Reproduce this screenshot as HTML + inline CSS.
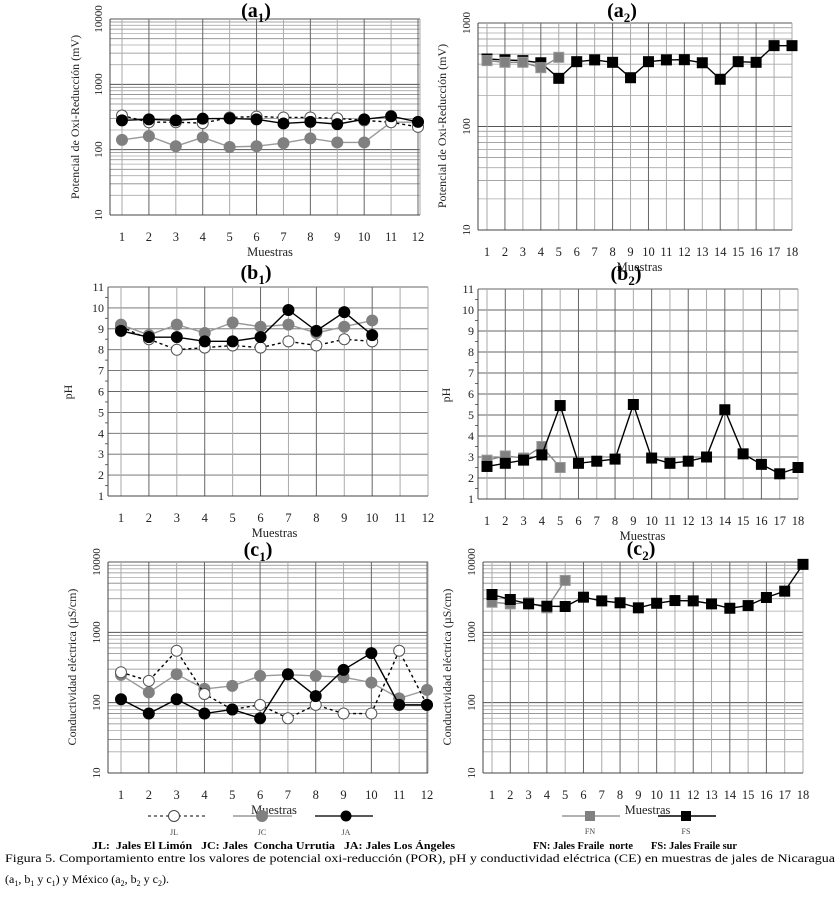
<!DOCTYPE html>
<html><head><meta charset="utf-8"><style>
html,body{margin:0;padding:0;background:#fff}
svg{display:block;font-family:"Liberation Serif",serif}
text{white-space:pre}
</style></head><body>
<svg id="fig" width="839" height="899" viewBox="0 0 839 899" xmlns="http://www.w3.org/2000/svg" xml:space="preserve">
<g id="layer"></g>
<g>
<line x1="148" y1="816" x2="205" y2="816" stroke="#000" stroke-dasharray="3,3"/>
<circle cx="174" cy="816" r="5.5" fill="#fff" stroke="#444"/>
<line x1="233" y1="816" x2="292" y2="816" stroke="#999" stroke-width="1.5"/>
<circle cx="262" cy="816" r="5.5" fill="#808080" stroke="#808080"/>
<line x1="315" y1="816" x2="373" y2="816" stroke="#222" stroke-width="1.5"/>
<circle cx="346" cy="816" r="5.5" fill="#000"/>
<text x="174" y="835" font-size="8" text-anchor="middle" fill="#444">JL</text>
<text x="262" y="835" font-size="8" text-anchor="middle" fill="#444">JC</text>
<text x="346" y="835" font-size="8" text-anchor="middle" fill="#444">JA</text>
<text x="92" y="849" font-size="11" font-weight="bold" textLength="363" lengthAdjust="spacingAndGlyphs">JL:  Jales El Limón   JC: Jales  Concha Urrutia   JA: Jales Los Ángeles</text>
</g>
<g>
<line x1="562" y1="816" x2="620" y2="816" stroke="#999" stroke-width="1.5"/>
<rect x="585" y="811" width="10" height="10" fill="#808080"/>
<line x1="658" y1="816" x2="716" y2="816" stroke="#000" stroke-width="1.5"/>
<rect x="681" y="811" width="10" height="10" fill="#000"/>
<text x="590" y="834" font-size="8" text-anchor="middle" fill="#444">FN</text>
<text x="686" y="834" font-size="8" text-anchor="middle" fill="#444">FS</text>
<text x="533" y="849" font-size="11" font-weight="bold" textLength="100" lengthAdjust="spacingAndGlyphs">FN: Jales Fraile  norte</text>
<text x="651" y="849" font-size="11" font-weight="bold" textLength="86" lengthAdjust="spacingAndGlyphs">FS: Jales Fraile sur</text>
</g>
<text x="5" y="862" font-size="12" textLength="830" lengthAdjust="spacingAndGlyphs">Figura 5. Comportamiento entre los valores de potencial oxi-reducción (POR), pH y conductividad eléctrica (CE) en muestras de jales de Nicaragua</text>
<text x="5" y="883" font-size="12">(a<tspan font-size="8" dy="3">1</tspan><tspan dy="-3">, b</tspan><tspan font-size="8" dy="3">1</tspan><tspan dy="-3"> y c</tspan><tspan font-size="8" dy="3">1</tspan><tspan dy="-3">) y México (a</tspan><tspan font-size="8" dy="3">2</tspan><tspan dy="-3">, b</tspan><tspan font-size="8" dy="3">2</tspan><tspan dy="-3"> y c</tspan><tspan font-size="8" dy="3">2</tspan><tspan dy="-3">).</tspan></text>
</svg>
<script>
// ---- data ----
const cats12 = [1,2,3,4,5,6,7,8,9,10,11,12];
const cats18 = [1,2,3,4,5,6,7,8,9,10,11,12,13,14,15,16,17,18];
const a1JL = [333,263,263,255,311,321,311,311,301,281,263,223];
const a1JC = [141,161,113,154,110,113,126,149,129,129,263,263];
const a1JA = [281,291,281,298,301,291,252,266,246,291,325,266];
const a2FN = [433,417,417,370,466];
const a2FS = [449,440,433,413,292,423,440,417,296,423,440,442,413,286,423,417,604,604];
const b1JL = [9.1,8.5,8.0,8.1,8.2,8.1,8.4,8.2,8.5,8.4];
const b1JC = [9.2,8.7,9.2,8.8,9.3,9.1,9.2,8.8,9.1,9.4];
const b1JA = [8.9,8.6,8.6,8.4,8.4,8.6,9.9,8.9,9.8,8.7];
const b2FN = [2.85,3.05,2.95,3.5,2.5];
const b2FS = [2.55,2.7,2.85,3.1,5.45,2.7,2.8,2.9,5.5,2.95,2.7,2.8,3.0,5.25,3.15,2.65,2.2,2.5];
const c1JL = [271,204,547,133,80,93,60,93,70,70,547,93];
const c1JC = [248,140,254,157,173,240,250,240,230,193,115,152];
const c1JA = [112,70,112,70,80,60,254,124,293,507,93,93];
const c2FN = [2680,2540,2630,2230,5470];
const c2FS = [3450,2930,2540,2350,2330,3160,2800,2630,2230,2590,2830,2800,2540,2200,2400,3130,3850,9260];
const logTicks4 = ["10","100","1000","10000"];
const logTicks3 = ["10","100","1000"];
const phTicks = ["1","2","3","4","5","6","7","8","9","10","11"];

const NS="http://www.w3.org/2000/svg";
const root=document.getElementById('layer');
function mk(tag,attrs,parent){const e=document.createElementNS(NS,tag);for(const k in attrs)e.setAttribute(k,attrs[k]);(parent||root).appendChild(e);return e;}

function panel(o){
  const g=mk('g',{});
  
  
  const n=o.cats.length;
  const step=(o.xN-o.x1)/(n-1);
  const xs=i=>o.x1+i*step;
  let ys;
  if(o.log){
    const d=(o.bottom-o.top)/o.decades;
    ys=v=>o.bottom-(Math.log10(v)-1)*d;
    for(let k=0;k<o.decades;k++){
      for(let m=1;m<=9;m++){
        const v=Math.pow(10,k+1)*m;
        const y=ys(v);
        mk('line',{x1:o.left,x2:o.right,y1:y,y2:y,stroke:m==1?'#555':(m%2?'#888':'#aaa'),'stroke-width':m==1?1:0.8},g);
      }
    }
    mk('line',{x1:o.left,x2:o.right,y1:o.top,y2:o.top,stroke:'#555'},g);
    o.ticks.forEach((t,k)=>{
      const y=ys(Math.pow(10,k+1));
      const tx=mk('text',{x:o.left-8,y:y,'font-size':11,'text-anchor':'middle',transform:`rotate(-90 ${o.left-8} ${y})`,fill:'#222'},g);
      tx.textContent=t;
      
      
    });
  } else {
    const u=(o.bottom-o.top)/10;
    ys=v=>o.bottom-(v-1)*u;
    for(let v=1;v<=11;v++){
      const y=ys(v);
      mk('line',{x1:o.left,x2:o.right,y1:y,y2:y,stroke:'#666','stroke-width':0.9},g);
      if(v<11) mk('line',{x1:o.left-3,x2:o.left,y1:ys(v+0.5),y2:ys(v+0.5),stroke:'#666'},g);
    }
    o.ticks.forEach((t,k)=>{
      const tx=mk('text',{x:o.left-4,y:ys(k+1)+4,'font-size':12,'text-anchor':'end',fill:'#222'},g);
      tx.textContent=t;
      
      
    });
  }
  o.cats.forEach((c,i)=>{
    const x=xs(i);
    mk('line',{x1:x,x2:x,y1:o.top,y2:o.bottom,stroke:i%2?'#666':'#aaa','stroke-width':1},g);
    const tx=mk('text',{x:x,y:o.bottom+26,'font-size':12.5,'text-anchor':'middle',fill:'#222'},g);
    tx.textContent=c;
    
    
  });
  mk('line',{x1:o.right,x2:o.right,y1:o.top,y2:o.bottom,stroke:'#aaa'},g);
  mk('line',{x1:o.left,x2:o.left,y1:o.top,y2:o.bottom,stroke:'#444'},g);
  mk('line',{x1:o.left,x2:o.right,y1:o.bottom,y2:o.bottom,stroke:'#444'},g);
  const xt=mk('text',{x:(o.x1+o.xN)/2,y:o.bottom+41,'font-size':12.5,'text-anchor':'middle',fill:'#222'},g);
  xt.textContent='Muestras';
  
  
  const yt=mk('text',{x:o.ytx,y:o.yty,'font-size':12,'text-anchor':'middle',transform:`rotate(-90 ${o.ytx} ${o.yty})`,fill:'#222'},g);
  yt.textContent=o.ytitle;
  
  
  const tt=mk('text',{x:o.tx,y:o.ty,'font-size':20,'font-weight':'bold','text-anchor':'middle'},g);
  tt.textContent='('+o.tl;
  const sub=mk('tspan',{'font-size':13,dy:5},tt); sub.textContent=o.ts;
  const cl=mk('tspan',{dy:-5},tt); cl.textContent=')';
  
  
  o.series.forEach(s=>{
    const pts=s.data.map((v,i)=>xs(i)+','+ys(v)).join(' ');
    const pl=mk('polyline',{points:pts,fill:'none',stroke:s.line,'stroke-width':1.4},g);
    if(s.dash) pl.setAttribute('stroke-dasharray','3,3');
    
    
    s.data.forEach((v,i)=>{
      let m;
      if(s.square) m=mk('rect',{x:xs(i)-5,y:ys(v)-5,width:10,height:10,fill:s.fill,stroke:s.stroke,'stroke-width':1},g);
      else m=mk('circle',{cx:xs(i),cy:ys(v),r:5.5,fill:s.fill,stroke:s.stroke,'stroke-width':1},g);
      
      
    });
  });
}
const JL=d=>({key:'jl',data:d,line:'#000',dash:true,fill:'#fff',stroke:'#555'});
const JC=d=>({key:'jc',data:d,line:'#999',fill:'#808080',stroke:'#808080'});
const JA=d=>({key:'ja',data:d,line:'#000',fill:'#000',stroke:'#000'});
const FN=d=>({key:'fn',data:d,line:'#888',fill:'#808080',stroke:'#999',square:true});
const FS=d=>({key:'fs',data:d,line:'#000',fill:'#000',stroke:'#000',square:true});

panel({name:'chart-a1',cats:cats12,log:true,decades:3,ticks:logTicks4,left:110,right:420,top:19,bottom:215,x1:122,xN:418,
  ytitle:'Potencial de Oxi-Reducción (mV)',ytx:79,yty:117,tl:'a',ts:'1',tx:256,ty:17,series:[JC(a1JC),JL(a1JL),JA(a1JA)]});
panel({name:'chart-a2',cats:cats18,log:true,decades:2,ticks:logTicks3,left:478,right:792,top:23,bottom:230,x1:487,xN:792,
  ytitle:'Potencial de Oxi-Reducción (mV)',ytx:446,yty:126,tl:'a',ts:'2',tx:622,ty:17,series:[FS(a2FS),FN(a2FN)]});
panel({name:'chart-b1',cats:cats12,log:false,ticks:phTicks,left:108,right:428,top:287,bottom:496,x1:121,xN:428,
  ytitle:'pH',ytx:72,yty:392,tl:'b',ts:'1',tx:256,ty:279,series:[JL(b1JL),JC(b1JC),JA(b1JA)]});
panel({name:'chart-b2',cats:cats18,log:false,ticks:phTicks,left:478,right:798,top:289,bottom:499,x1:487,xN:798,
  ytitle:'pH',ytx:450,yty:395,tl:'b',ts:'2',tx:626,ty:280,series:[FN(b2FN),FS(b2FS)]});
panel({name:'chart-c1',cats:cats12,log:true,decades:3,ticks:logTicks4,left:108,right:428,top:562,bottom:773,x1:121,xN:427,
  ytitle:'Conductividad eléctrica (µS/cm)',ytx:76,yty:667,tl:'c',ts:'1',tx:258,ty:556,series:[JC(c1JC),JL(c1JL),JA(c1JA)]});
panel({name:'chart-c2',cats:cats18,log:true,decades:3,ticks:logTicks4,left:483,right:803,top:562,bottom:773,x1:492,xN:803,
  ytitle:'Conductividad eléctrica (µS/cm)',ytx:451,yty:667,tl:'c',ts:'2',tx:641,ty:555,series:[FN(c2FN),FS(c2FS)]});
</script>
</body></html>
